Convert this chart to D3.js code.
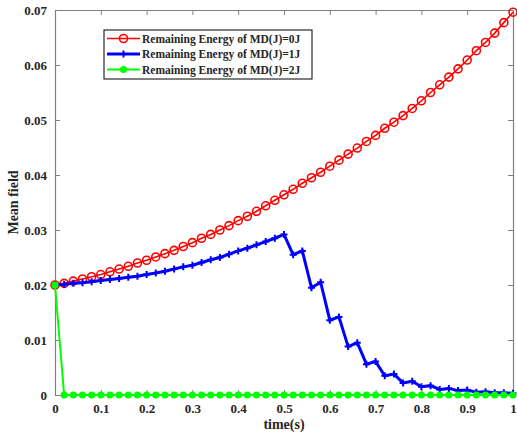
<!DOCTYPE html>
<html>
<head>
<meta charset="utf-8">
<script src="https://cdn.jsdelivr.net/npm/d3@7"></script>
<style>
  body { margin: 0; background: #fff; }
  text { font-family: "Liberation Serif", "Times New Roman", serif; font-weight: bold; }
</style>
</head>
<body>
<div id="chart"></div>
<script>
// time steps (s)
let times = [0,0.02,0.04,0.06,0.08,0.1,0.12,0.14,0.16,0.18,0.2,0.22,0.24,0.26,0.28,0.3,0.32,0.34,0.36,0.38,
             0.4,0.42,0.44,0.46,0.48,0.5,0.52,0.54,0.56,0.58,0.6,0.62,0.64,0.66,0.68,0.7,0.72,0.74,0.76,0.78,
             0.8,0.82,0.84,0.86,0.88,0.9,0.92,0.94,0.96,0.98,1]

let energy0 = [0.0200,0.0203,0.0207,0.0211,0.0215,0.0219,0.0224,0.0229,0.0234,0.0240,0.0245,0.0251,0.0257,0.0263,0.0270,0.0277,
               0.0285,0.0292,0.0300,0.0308,0.0317,0.0325,0.0334,0.0344,0.0354,0.0364,0.0374,0.0385,0.0395,0.0405,0.0416,0.0427,
               0.0438,0.0449,0.0461,0.0472,0.0485,0.0496,0.0508,0.0521,0.0535,0.0550,0.0564,0.0578,0.0593,0.0609,0.0626,0.0641,
               0.0658,0.0677,0.0696]

let energy1 = [0.0200,0.0201,0.0203,0.0204,0.0206,0.0208,0.0210,0.0212,0.0214,0.0216,0.0219,0.0222,0.0225,0.0229,0.0233,0.0236,
               0.0241,0.0246,0.0250,0.0256,0.0262,0.0267,0.0273,0.0279,0.0285,0.0292,0.0255,0.0262,0.0195,0.0205,0.0136,0.0142,
               0.0088,0.0095,0.0056,0.0061,0.0035,0.0038,0.0022,0.0025,0.0015,0.0017,0.0010,0.0012,0.0008,0.0009,0.0005,0.0006,
               0.0004,0.0004,0.0003]

let energy2 = [0.02,0,0,0,0,0,0,0,0,0,0,0,0,0,0,0,0,0,0,0,0,0,0,0,0,0,
               0,0,0,0,0,0,0,0,0,0,0,0,0,0,0,0,0,0,0,0,0,0,0,0,0]

let seriesNames = ["Remaining Energy of MD(J)=0J", "Remaining Energy of MD(J)=1J", "Remaining Energy of MD(J)=2J"]
let xTicks = [0,0.1,0.2,0.3,0.4,0.5,0.6,0.7,0.8,0.9,1]
let yTicks = [0,0.01,0.02,0.03,0.04,0.05,0.06,0.07]

let W = 517, H = 436
let margin = {left: 55, right: 4, top: 10, bottom: 41}
let iw = W - margin.left - margin.right
let ih = H - margin.top - margin.bottom

let svg = d3.select("#chart").append("svg")
  .attr("width", W)
  .attr("height", H)

let g = svg.append("g").attr("transform", `translate(${margin.left},${margin.top})`)

let xScale = d3.scaleLinear().domain([0, 1]).range([0, iw])
let yScale = d3.scaleLinear().domain([0, 0.07]).range([ih, 0])

let axisColor = "#808080"
let labelColor = "#262626"

function styleAxis(sel, showLabels) {
  sel.select(".domain").attr("stroke", axisColor).attr("stroke-width", 1.2)
  sel.selectAll(".tick line").attr("stroke", axisColor).attr("stroke-width", 1)
  sel.selectAll(".tick text")
     .attr("fill", labelColor)
     .style("font-size", "13px")
     .style("display", showLabels ? null : "none")
}

let fmt = d => d === 0 ? "0" : d === 1 ? "1" : String(d)

g.append("g").attr("transform", `translate(0,${ih})`)
  .call(d3.axisBottom(xScale).tickValues(xTicks).tickFormat(fmt).tickSizeInner(-5).tickSizeOuter(0).tickPadding(9))
  .call(s => styleAxis(s, true))
g.append("g")
  .call(d3.axisTop(xScale).tickValues(xTicks).tickSizeInner(-5).tickSizeOuter(0))
  .call(s => styleAxis(s, false))
g.append("g")
  .call(d3.axisLeft(yScale).tickValues(yTicks).tickFormat(fmt).tickSizeInner(-5).tickSizeOuter(0).tickPadding(8))
  .call(s => styleAxis(s, true))
g.append("g").attr("transform", `translate(${iw},0)`)
  .call(d3.axisRight(yScale).tickValues(yTicks).tickSizeInner(-5).tickSizeOuter(0))
  .call(s => styleAxis(s, false))

// axis titles
svg.append("text")
  .attr("x", margin.left + iw / 2)
  .attr("y", 429)
  .attr("text-anchor", "middle")
  .attr("fill", labelColor)
  .style("font-size", "14px")
  .text("time(s)")

svg.append("text")
  .attr("transform", `translate(18,${margin.top + ih / 2}) rotate(-90)`)
  .attr("text-anchor", "middle")
  .attr("fill", labelColor)
  .style("font-size", "14px")
  .text("Mean field")

let line = d3.line()
  .x((d, i) => xScale(times[i]))
  .y(d => yScale(d))

// red: circles
g.append("path").datum(energy0)
  .attr("d", line).attr("fill", "none").attr("stroke", "#ff0000").attr("stroke-width", 1.6)
g.selectAll("circle.red").data(energy0).enter().append("circle")
  .attr("class", "red")
  .attr("cx", (d, i) => xScale(times[i]))
  .attr("cy", d => yScale(d))
  .attr("r", 4)
  .attr("fill", "none")
  .attr("stroke", "#ff0000")
  .attr("stroke-width", 1.6)

// blue: plus markers
g.append("path").datum(energy1)
  .attr("d", line).attr("fill", "none").attr("stroke", "#0000ff").attr("stroke-width", 3)
g.selectAll("path.plus").data(energy1).enter().append("path")
  .attr("class", "plus")
  .attr("d", d3.symbol().type(d3.symbolCross).size(0))
  .attr("transform", (d, i) => `translate(${xScale(times[i])},${yScale(d)})`)
  .attr("d", "M-3.5,0H3.5M0,-3.5V3.5")
  .attr("stroke", "#0000ff")
  .attr("stroke-width", 2)

// green: filled dots
g.append("path").datum(energy2)
  .attr("d", line).attr("fill", "none").attr("stroke", "#00ff00").attr("stroke-width", 2)
g.selectAll("circle.green").data(energy2).enter().append("circle")
  .attr("class", "green")
  .attr("cx", (d, i) => xScale(times[i]))
  .attr("cy", d => yScale(d))
  .attr("r", 3.6)
  .attr("fill", "#00ff00")

// legend
let legend = svg.append("g").attr("transform", "translate(104,30)")
legend.append("rect")
  .attr("width", 208).attr("height", 49)
  .attr("fill", "#fff").attr("stroke", "#000").attr("stroke-width", 1)

let legendColors = ["#ff0000", "#0000ff", "#00ff00"]
seriesNames.forEach(function(name, i) {
  let yy = 8.5 + i * 15.5
  let row = legend.append("g").attr("transform", `translate(0,${yy})`)
  row.append("line").attr("x1", 3).attr("x2", 36).attr("y1", 0).attr("y2", 0)
     .attr("stroke", legendColors[i]).attr("stroke-width", i === 1 ? 3 : i === 2 ? 2 : 1.6)
  if (i === 0) {
    row.append("circle").attr("cx", 19.5).attr("cy", 0).attr("r", 4)
       .attr("fill", "none").attr("stroke", "#ff0000").attr("stroke-width", 1.6)
  } else if (i === 1) {
    row.append("path").attr("d", "M16,0H23M19.5,-3.5V3.5").attr("stroke", "#0000ff").attr("stroke-width", 2)
  } else {
    row.append("circle").attr("cx", 19.5).attr("cy", 0).attr("r", 3.6).attr("fill", "#00ff00")
  }
  row.append("text")
     .attr("x", 38).attr("y", 4)
     .attr("fill", labelColor)
     .style("font-size", "11.5px")
     .text(name)
})
</script>
</body>
</html>
